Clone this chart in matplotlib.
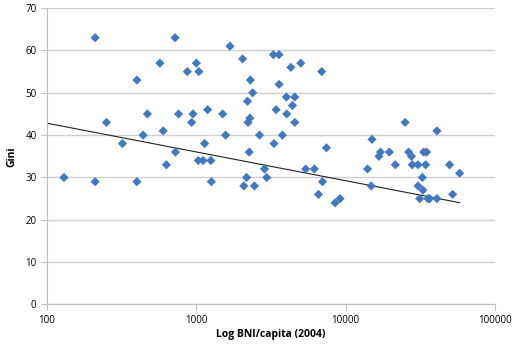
import numpy as np
import matplotlib
matplotlib.use("Agg")
import matplotlib.pyplot as plt

# BNI per capita (2004, USD) and Gini index
bni = [130, 210, 210, 250, 320, 400, 400, 440, 470, 570,
       600, 630, 720, 725, 760, 870, 930, 950, 1000, 1040,
       1030, 1110, 1135, 1190, 1250, 1260, 1500, 1570, 1680, 2040,
       2080, 2170, 2200, 2260, 2220, 2280, 2300, 2380, 2450, 2650,
       2860, 2960, 3310, 3280, 3420, 3580, 3580, 3770, 4010, 4030,
       4290, 4400, 4560, 4560, 5000, 5400, 6170, 6910, 6570, 6990,
       7430, 8490, 9160, 14000, 14800, 15000, 16700, 17100, 19600, 21500,
       25000, 26400, 27600, 27900, 30500, 30500, 31300, 32600, 32900, 33300,
       34300, 34800, 35500, 36500, 40800, 40800, 49600, 52000, 57900]
gini = [30, 63, 29, 43, 38, 53, 29, 40, 45, 57,
        41, 33, 63, 36, 45, 55, 43, 45, 57, 55,
        34, 34, 38, 46, 34, 29, 45, 40, 61, 58,
        28, 30, 48, 36, 43, 44, 53, 50, 28, 40,
        32, 30, 38, 59, 46, 59, 52, 40, 49, 45,
        56, 47, 49, 43, 57, 32, 32, 55, 26, 29,
        37, 24, 25, 32, 28, 39, 35, 36, 36, 33,
        43, 36, 35, 33, 33, 28, 25, 30, 27, 36,
        33, 36, 25, 25, 25, 41, 33, 26, 31]

# Excel-style log trendline shown on the chart: y = a*ln(x) + b
trend_a = -2.95
trend_b = 56.4

x_ticks = [100, 1000, 10000, 100000]
y_ticks = list(range(0, 71, 10))

blue = "#4178BE"
grid_col = "#D0D0D0"
txt_font = ["Open Sans", "DejaVu Sans"]

fig = plt.figure(figsize=(5.2, 3.52), dpi=100)
ax = fig.add_axes([0.0904, 0.135, 0.8616, 0.842])

ax.scatter(bni, gini, marker="D", s=22, color=blue, edgecolors="none", zorder=3)

tx = np.geomspace(x_ticks[0], max(bni), 50)
ax.plot(tx, trend_a * np.log(tx) + trend_b, color="#222222", lw=0.8, zorder=2)

ax.set_xscale("log")
ax.set_xlim(x_ticks[0], x_ticks[-1])
ax.set_ylim(0, 70)
ax.set_xticks(x_ticks)
ax.set_xticklabels([str(v) for v in x_ticks])
ax.minorticks_off()
ax.set_yticks(y_ticks)
ax.set_yticklabels([str(v) for v in y_ticks])

ax.yaxis.grid(True, color=grid_col, lw=1)
ax.set_axisbelow(True)
for s in ["top", "right"]:
    ax.spines[s].set_visible(False)
for s in ["left", "bottom"]:
    ax.spines[s].set_color("#BFBFBF")
    ax.spines[s].set_linewidth(0.8)
ax.tick_params(axis="both", colors="#BFBFBF", length=4, width=0.8,
               labelcolor="black", labelsize=7)
for lab in ax.get_xticklabels() + ax.get_yticklabels():
    lab.set_family(txt_font)

ax.set_xlabel("Log BNI/capita (2004)", fontsize=7.5, fontweight="bold",
              family=txt_font, labelpad=2)
ax.set_ylabel("Gini", fontsize=7.5, fontweight="bold", family=txt_font, labelpad=6)

fig.savefig("out.png", dpi=100)
